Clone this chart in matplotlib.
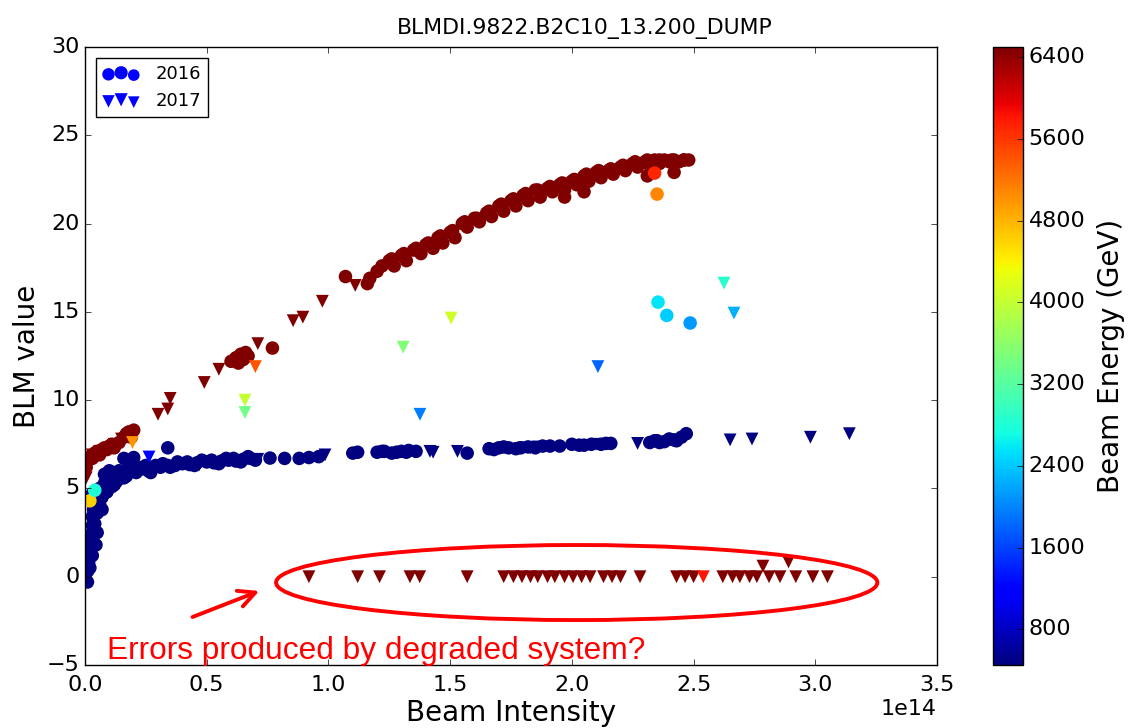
import numpy as np
import matplotlib.pyplot as plt
from matplotlib.patches import Ellipse

# x values are in units of 1e14 (beam intensity), y is the BLM value,
# energies in GeV

# ---- 2016 (circles) ----
# top energy, upper branch
x16_top = [0.01, 0.02, 0.03, 0.04, 0.05, 0.06, 0.07, 0.08, 0.09, 0.10, 0.11, 0.12,
           0.14, 0.16, 0.17, 0.18, 0.19, 0.20, 0.005, 0.01, 0.005,
           0.60, 0.62, 0.63, 0.64, 0.65, 0.66, 0.67, 0.77,
           1.07, 1.16, 1.17, 1.20, 1.22,
           1.25, 1.27, 1.30, 1.32, 1.35, 1.38, 1.40, 1.43, 1.45, 1.47, 1.50, 1.52,
           1.55, 1.57, 1.60, 1.62, 1.65, 1.67, 1.70, 1.72, 1.75, 1.77, 1.80, 1.82,
           1.85, 1.87, 1.90, 1.92, 1.95, 1.97, 2.00, 2.02, 2.05, 2.07, 2.10, 2.12,
           2.15, 2.17, 2.20, 2.22, 2.25, 2.27, 2.30, 2.32, 2.34, 2.36, 2.38, 2.40,
           2.42, 2.44, 2.46, 2.48, 2.05, 2.31, 2.42, 1.97,
           1.26, 1.31, 1.36, 1.41, 1.46, 1.51, 1.56, 1.61, 1.66, 1.71, 1.76, 1.81,
           1.86, 1.91, 1.96, 2.01, 2.06, 2.11, 2.16, 2.21, 2.26, 2.31, 2.36, 2.41,
           2.46]
y16_top = [6.6, 6.8, 6.7, 7.0, 7.1, 6.9, 7.2, 7.3, 7.2, 7.4, 7.5, 7.3,
           7.6, 7.9, 8.1, 8.2, 7.9, 8.3, 6.2, 0.6, 1.1,
           12.2, 12.4, 12.1, 12.6, 12.3, 12.7, 12.5, 12.95,
           17.0, 16.6, 16.9, 17.3, 17.6,
           17.9, 17.6, 18.2, 17.9, 18.5, 18.3, 18.8, 18.6, 19.2, 18.9, 19.5, 19.2,
           20.0, 19.8, 20.3, 20.1, 20.6, 20.4, 21.0, 20.7, 21.3, 21.0, 21.6, 21.3,
           21.9, 21.5, 22.0, 21.8, 22.2, 21.9, 22.4, 22.2, 22.7, 22.4, 22.9, 22.6,
           23.0, 22.8, 23.2, 23.0, 23.4, 23.2, 23.5, 23.3, 23.6, 23.4, 23.6, 23.5,
           23.6, 23.5, 23.6, 23.6, 21.8, 22.7, 22.9, 21.5,
           18.0, 18.3, 18.6, 18.9, 19.3, 19.6, 20.1, 20.3, 20.7, 21.1, 21.4, 21.7,
           21.9, 22.1, 22.3, 22.5, 22.8, 23.0, 23.1, 23.3, 23.5, 23.6, 23.6, 23.6,
           23.6]
# injection energy, lower branch
x16_inj = [0.01, 0.01, 0.015, 0.02, 0.02, 0.025, 0.03, 0.03, 0.035, 0.04, 0.05, 0.05,
           0.06, 0.06, 0.07, 0.08, 0.09, 0.10, 0.11, 0.12, 0.13, 0.15, 0.17, 0.19,
           0.21, 0.23, 0.26, 0.28, 0.31, 0.34, 0.37, 0.40, 0.43, 0.46, 0.50, 0.53,
           0.56, 0.59, 0.62, 0.65, 0.68, 0.76, 0.88, 0.92, 1.10, 1.20, 1.23, 1.26,
           1.30, 1.33, 1.57, 1.66, 1.70, 1.74, 1.82, 1.91, 2.03, 2.08, 2.12, 2.14,
           2.32, 2.35, 2.38, 2.42, 2.45, 2.47, 0.34, 0.16, 0.20,
           0.08, 0.10, 0.12, 0.14, 0.16, 0.18, 0.22, 0.25, 0.27, 0.29, 0.32, 0.35,
           0.38, 0.42, 0.45, 0.48, 0.52, 0.55, 0.58, 0.61, 0.64, 0.67, 0.70,
           0.04, 0.05, 0.045, 0.03, 0.02, 0.03, 0.07,
           1.68, 1.72, 1.77, 1.79, 1.85, 1.88, 1.95, 2.00, 2.05, 2.16, 2.34, 2.36,
           2.40, 2.43, 1.22, 1.28, 1.32, 1.36, 1.12, 0.96, 0.82]
y16_inj = [-0.3, 0.3, 0.8, 1.3, 1.9, 2.4, 2.9, 3.4, 3.8, 4.2, 3.6, 4.6,
           4.1, 5.0, 4.5, 5.3, 4.8, 5.5, 5.1, 5.8, 5.4, 5.9, 5.7, 6.0,
           5.9, 6.1, 6.0, 6.2, 6.2, 6.3, 6.3, 6.4, 6.35, 6.45, 6.5, 6.45,
           6.55, 6.6, 6.55, 6.65, 6.7, 6.72, 6.7, 6.75, 7.0, 7.05, 7.1, 7.0,
           7.1, 7.15, 7.0, 7.25, 7.3, 7.3, 7.35, 7.4, 7.45, 7.5, 7.5, 7.55,
           7.6, 7.7, 7.65, 7.75, 7.9, 8.1, 7.3, 6.7, 6.75,
           5.8, 6.0, 5.2, 6.0, 5.6, 6.1, 6.2, 6.3, 5.9, 6.3, 6.4, 6.2,
           6.5, 6.5, 6.3, 6.6, 6.6, 6.4, 6.7, 6.7, 6.5, 6.8, 6.6,
           3.0, 2.5, 1.8, 1.2, 0.5, 4.7, 3.8,
           7.2, 7.35, 7.25, 7.3, 7.3, 7.4, 7.4, 7.5, 7.45, 7.55, 7.7, 7.6,
           7.8, 7.7, 7.1, 7.05, 7.05, 7.1, 7.05, 6.8, 6.7]
# other energies
x16_mid = [2.34, 2.35, 2.354, 2.39, 2.486, 0.02, 0.04]
y16_mid = [22.86, 21.67, 15.55, 14.8, 14.37, 4.3, 4.9]
e16_mid = [5700, 5100, 2570, 2420, 2110, 4600, 2800]

# ---- 2017 (triangles) ----
x17_top = [0.03, 0.06, 0.12, 0.15, 0.18, 0.30, 0.34, 0.35, 0.49, 0.55, 0.71,
           0.855, 0.895, 0.975, 1.11, 0.005, 0.01]
y17_top = [6.9, 7.1, 7.5, 7.8, 8.0, 9.2, 9.5, 10.1, 11.0, 11.75, 13.2,
           14.5, 14.7, 15.6, 16.5, 5.6, 6.5]
x17_inj = [0.22, 0.47, 0.71, 0.986, 1.417, 1.43, 1.53, 1.80, 1.83, 1.86,
           2.10, 2.27, 2.65, 2.74, 2.98, 3.14]
y17_inj = [6.1, 6.35, 6.65, 6.9, 7.1, 7.05, 7.1, 7.3, 7.3, 7.35,
           7.5, 7.55, 7.75, 7.8, 7.9, 8.1]
# the suspicious readings around zero
x17_err = [0.92, 1.12, 1.21, 1.335, 1.375, 1.57, 1.72, 1.76, 1.795, 1.83, 1.86,
           1.90, 1.93, 1.97, 2.005, 2.04, 2.075, 2.13, 2.165, 2.20, 2.28, 2.43,
           2.465, 2.50, 2.62, 2.66, 2.69, 2.73, 2.76, 2.785, 2.81, 2.855, 2.89,
           2.92, 2.99, 3.05]
y17_err = [0.0, 0.0, 0.0, 0.0, 0.0, 0.0, 0.0, 0.0, 0.0, 0.0, 0.0,
           0.0, 0.0, 0.0, 0.0, 0.0, 0.0, 0.0, 0.0, 0.0, 0.0, 0.0,
           0.0, 0.0, 0.0, 0.0, 0.0, 0.0, 0.0, 0.6, 0.0, 0.0, 0.84,
           0.0, 0.0, 0.0]
x17_mid = [0.657, 0.657, 1.307, 1.504, 1.376, 2.107, 2.625, 2.666, 0.70, 0.195,
           0.263, 2.54]
y17_mid = [10.0, 9.3, 13.0, 14.65, 9.2, 11.9, 16.63, 14.93, 11.9, 7.6,
           6.78, 0.0]
e17_mid = [4000, 3400, 3500, 4080, 1960, 1800, 2870, 2265, 5400, 5000,
           1150, 5800]

E_TOP = 6500
E_INJ = 450

x16 = np.array(x16_top + x16_inj + x16_mid) * 1e14
y16 = np.array(y16_top + y16_inj + y16_mid)
e16 = np.array([E_TOP] * len(x16_top) + [E_INJ] * len(x16_inj) + e16_mid)

x17 = np.array(x17_top + x17_inj + x17_err + x17_mid) * 1e14
y17 = np.array(y17_top + y17_inj + y17_err + y17_mid)
e17 = np.array([E_TOP] * len(x17_top) + [E_INJ] * len(x17_inj)
               + [E_TOP] * len(x17_err) + e17_mid)

plt.style.use('classic')
plt.rcParams['font.family'] = 'DejaVu Sans'

fig = plt.figure(figsize=(11.3, 7.28), dpi=100, facecolor='white')
ax = fig.add_axes([85 / 1130, 63 / 728, 852 / 1130, 618 / 728])
cax = fig.add_axes([993 / 1130, 63 / 728, 30 / 1130, 618 / 728])

sc16 = ax.scatter(x16, y16, c=e16, cmap='jet', vmin=450, vmax=6500, marker='o',
                  s=95, edgecolors='none')
sc17 = ax.scatter(x17, y17, c=e17, cmap='jet', vmin=450, vmax=6500, marker='v',
                  s=85, edgecolors='none')

# legend proxies (blue, like the old matplotlib legend)
h16 = ax.scatter([], [], c='b', marker='o', s=80, edgecolors='none', label='2016')
h17 = ax.scatter([], [], c='b', marker='v', s=80, edgecolors='none', label='2017')
h16.set_sizes([70, 90])
h17.set_sizes([70, 90])
leg = ax.legend(handles=[h16, h17], loc='upper left', scatterpoints=3,
                fontsize=13, borderaxespad=0.6, handletextpad=0.9)

ax.set_xlim(0, 3.5e14)
ax.set_ylim(-5, 30)
ax.set_yticks(np.arange(-5, 31, 5))
ax.set_xticks(np.arange(0, 3.51e14, 0.5e14))
ax.tick_params(labelsize=16)
ax.tick_params(axis='x', pad=7)
ax.xaxis.get_offset_text().set_fontsize(16)
ax.set_xlabel('Beam Intensity', fontsize=20, labelpad=3)
ax.set_ylabel('BLM value', fontsize=20, labelpad=4)
ax.set_title('BLMDI.9822.B2C10_13.200_DUMP', fontsize=15.8, x=0.586, y=1.01)

cb = fig.colorbar(sc16, cax=cax, ticks=np.arange(800, 6401, 800))
cb.ax.tick_params(labelsize=16)
cb.set_label('Beam Energy (GeV)', fontsize=20, labelpad=8)

# annotation added on top of the plot
ax.add_patch(Ellipse((2.02e14, -0.33), width=2.47e14, height=4.25, fill=False,
                     edgecolor='red', linewidth=2.8, clip_on=False, zorder=5))
ax.annotate('', xy=(0.727e14, -0.75), xytext=(0.431e14, -2.34),
            arrowprops=dict(arrowstyle='->', color='red', lw=2.8,
                            mutation_scale=30))
ax.text(0.09e14, -4.2, 'Errors produced by degraded system?', color='red',
        fontsize=22.8, family='Liberation Sans', va='center', ha='left')

fig.savefig('out.png', dpi=100, facecolor='white')
